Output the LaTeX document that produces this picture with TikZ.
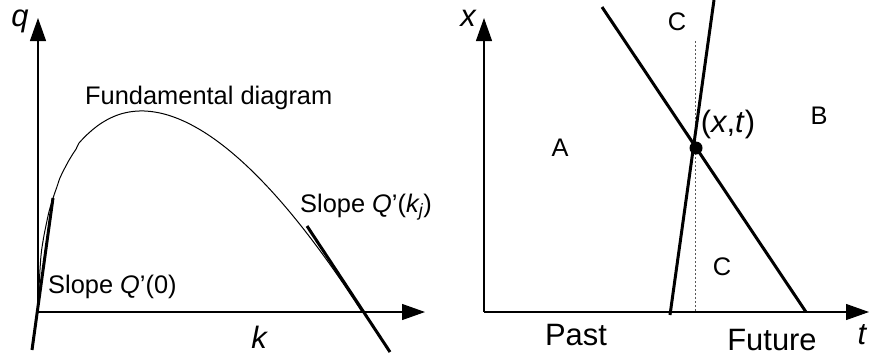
\documentclass[tikz,border=0pt]{standalone}
\usepackage{fontspec}
\setmainfont{Liberation Sans}
\usetikzlibrary{arrows.meta}
\tikzset{
  axis/.style={line width=1.2bp, -{Triangle[length=23bp, width=16bp]}},
  tangent/.style={line width=3bp},
  lbl/.style={font=\fontsize{25.5}{30}\selectfont, inner sep=0pt},
  big/.style={font=\fontsize{31}{36}\selectfont, inner sep=0pt},
  var/.style={font=\fontsize{31}{36}\selectfont\itshape, inner sep=0pt},
}
\begin{document}
\begin{tikzpicture}[x=1bp, y=-1bp]
  \useasboundingbox (0,0) rectangle (869,358);
  % fundamental diagram
  \coordinate (o1) at (38,312);
  \draw[axis] (o1) -- (38,18) coordinate (qtip);
  \draw[axis] (o1) -- (425,312) coordinate (ktip);
  \node[var] (q) at (20,21) {q};
  \node[var] (k) at (259,337) {k};
  \draw[line width=1bp] (o1) -- plot[domain=0.0001:1, samples=120, smooth]
    ({38+324*\x}, {312-505*pow(\x,0.47)*(1-\x)});
  \coordinate (t1a) at (32,350);  \coordinate (t1b) at (53,198);
  \coordinate (t2a) at (307,226); \coordinate (t2b) at (390,352);
  \draw[tangent] (t1a) -- (t1b);
  \draw[tangent] (t2a) -- (t2b);
  \node[lbl, anchor=base west] (fd) at (85,104) {Fundamental diagram};
  \node[lbl, anchor=base west] (s0) at (48,293) {Slope \textit{Q}’(0)};
  \node[lbl, anchor=base west] (sj) at (300,212) {Slope \textit{Q}’(\textit{k\textsubscript{j}})};
  % characteristics
  \coordinate (o2) at (484,312);
  \draw[axis] (o2) -- (484,18) coordinate (xtip);
  \draw[axis] (o2) -- (869,312) coordinate (ttip);
  \node[var] (x) at (468,18) {x};
  \node[var] (t) at (862,335) {t};
  \coordinate (la) at (602,7);  \coordinate (lb) at (806,312);
  \coordinate (ma) at (714,0);  \coordinate (mb) at (670,315);
  \draw[line width=1bp, dash pattern=on 2bp off 2bp, gray!70!black] (695,41) coordinate (da) -- (695,312) coordinate (db);
  \draw[tangent] (la) -- (lb);
  \draw[tangent] (ma) -- (mb);
  \node[circle, fill, inner sep=0pt, minimum size=13bp] (pt) at (696,148) {};
  \node[big] (xt) at (728,125) {(\textit{x},\textit{t})};
  \node[lbl] (a) at (560,148) {A};
  \node[lbl] (b) at (819,116) {B};
  \node[lbl] (c1) at (677,22) {C};
  \node[lbl] (c2) at (722,267) {C};
  \node[big, anchor=base] (past) at (576,345) {Past};
  \node[big, anchor=base] (fut) at (772,350) {Future};
\end{tikzpicture}
\end{document}
